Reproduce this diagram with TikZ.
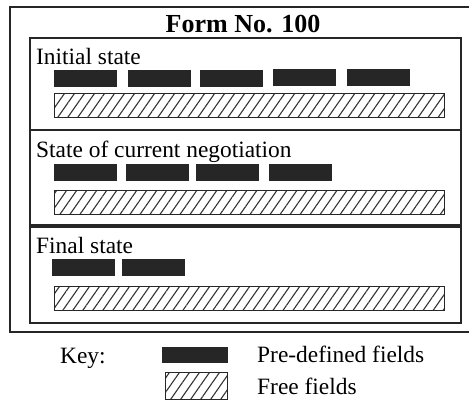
\documentclass[tikz,border=0pt]{standalone}
\usepackage{fontspec}
\setmainfont{Liberation Serif}
\usetikzlibrary{patterns.meta}

\tikzset{
  predef/.style={shape=rectangle, draw=black!85, fill=black!85, line width=0.6,
    minimum width=62, minimum height=16, inner sep=0, anchor=north west},
  freefld/.style={shape=rectangle, draw=black!85, line width=1.4,
    pattern={Lines[angle=55, distance=8.2pt, line width=1.1pt]}, pattern color=black!80,
    minimum width=390, minimum height=24, inner sep=0, anchor=north west},
  panel/.style={draw=black!85, line width=1.5},
  lbl/.style={font=\fontsize{23.4}{25}\selectfont, inner sep=0, anchor=base west}
}

\begin{document}
\begin{tikzpicture}[x=1pt, y=-1pt]
  \useasboundingbox (0,0) rectangle (469,400);

  % form outline, open on the right
  \draw [panel] (470,7) -- (10,7) -- (10,332) -- (470,332);
  \node (title) at (243,24) [font=\bfseries\fontsize{26}{28}\selectfont, inner sep=0] {Form No. 100};

  % the three states
  \draw [panel] (30,38) rectangle (461,130);
  \draw [panel] (30,130) rectangle (461,225);
  \draw [panel] (30,227) rectangle (461,323);

  \node (initial) at (36,64) [lbl] {Initial state};
  \path (54,70)  node [predef] (i1) {}
        (128,70) node [predef] (i2) {}
        (200,70) node [predef] (i3) {}
        (273,69) node [predef] (i4) {}
        (347,69) node [predef] (i5) {}
        (54,93)  node [freefld] (ifree) {};

  \node (current) at (36,157) [lbl] {State of current negotiation};
  \path (54,164)  node [predef] (c1) {}
        (126,164) node [predef] (c2) {}
        (196,164) node [predef] (c3) {}
        (269,164) node [predef] (c4) {}
        (54,190)  node [freefld] (cfree) {};

  \node (final) at (36,253) [lbl] {Final state};
  \path (52,259)  node [predef] (f1) {}
        (122,259) node [predef] (f2) {}
        (54,286)  node [freefld] (ffree) {};

  % key
  \node (key) at (60,363) [lbl] {Key:};
  \path (162,347) node [predef, minimum width=65, minimum height=15] (kpre) {}
        (165,372) node [freefld, minimum width=62, minimum height=27] (kfree) {};
  \node (kpretxt) at (257,362) [lbl] {Pre-defined fields};
  \node (kfreetxt) at (257,394) [lbl] {Free fields};
\end{tikzpicture}
\end{document}
